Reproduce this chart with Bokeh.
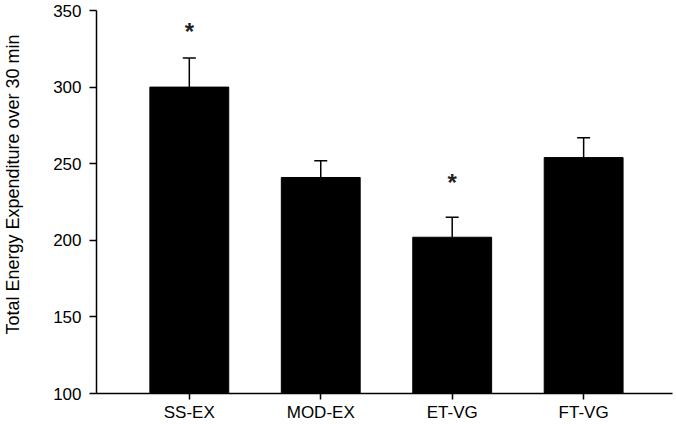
import math
from bokeh.plotting import figure
from bokeh.models import Range1d, ColumnDataSource, Whisker, TeeHead, FixedTicker
from bokeh.core.properties import value
from bokeh.embed import file_html
from bokeh.resources import INLINE

# ---- data ----
categories = ["SS-EX", "MOD-EX", "ET-VG", "FT-VG"]
means = [300, 241, 202, 254]
upper_err = [319, 252, 215, 267]          # top of the error bar (mean + SE)
sig_categories = ["SS-EX", "ET-VG"]       # groups marked with an asterisk
sig_marker_y = [336, 238]                 # vertical position of the asterisks
y_ticks = [100, 150, 200, 250, 300, 350]
y_label = "Total Energy Expenditure over 30 min"

FONT = "Liberation Sans"

xs = [i + 1 for i in range(len(categories))]
src = ColumnDataSource(dict(x=xs, top=means, upper=upper_err, lower=means))

p = figure(width=676, height=424, output_backend="svg", toolbar_location=None,
           x_range=Range1d(0.294, 4.676), y_range=Range1d(100, 350),
           min_border_left=95, min_border_right=4, min_border_top=10, min_border_bottom=31)

p.vbar(x="x", top="top", bottom=100, width=0.6, source=src,
       fill_color="black", line_color="black")

w = Whisker(base="x", upper="upper", lower="lower", source=src,
            line_color="black", line_width=1.5,
            upper_head=TeeHead(size=13, line_color="black", line_width=1.5),
            lower_head=None)
p.add_layout(w)

sig_x = [xs[categories.index(c)] for c in sig_categories]
p.text(x=sig_x, y=sig_marker_y, text=["*"] * len(sig_x),
       text_font=value(FONT), text_font_size="24px", text_font_style="bold",
       text_color="#222222", text_align="center", text_baseline="middle", y_offset=0)

# axes
p.xgrid.visible = False
p.ygrid.visible = False
p.outline_line_color = None

xa = p.xaxis[0]
xa.ticker = FixedTicker(ticks=xs)
xa.major_label_overrides = {x: c for x, c in zip(xs, categories)}
xa.axis_line_width = 1.5
xa.major_tick_line_width = 1.5
xa.major_tick_out = 6
xa.major_tick_in = 0
xa.minor_tick_line_color = None
xa.major_label_standoff = 3
xa.major_label_text_font = FONT
xa.major_label_text_font_size = "17px"
xa.major_label_text_color = "black"

ya = p.yaxis[0]
ya.ticker = FixedTicker(ticks=y_ticks)
ya.axis_line_width = 1.5
ya.major_tick_line_width = 1.5
ya.major_tick_out = 7
ya.major_tick_in = 0
ya.minor_tick_line_color = None
ya.major_label_standoff = 8
ya.major_label_text_font = FONT
ya.major_label_text_font_size = "17px"
ya.major_label_text_color = "black"

# the reference's label sits a little above the axis centre: pad its start
ya.axis_label = "\u00a0" * 7 + y_label
ya.axis_label_standoff = 27
ya.axis_label_text_font = FONT
ya.axis_label_text_font_size = "18px"
ya.axis_label_text_font_style = "normal"
ya.axis_label_text_color = "black"

open("out.html", "w").write(file_html(p, INLINE))
